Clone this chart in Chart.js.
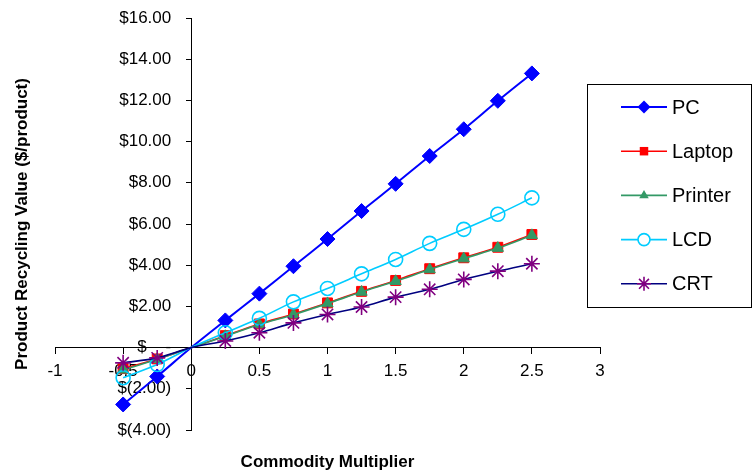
<!DOCTYPE html>
<html>
<head>
<meta charset="utf-8">
<title>Product Recycling Value</title>
<script src="https://cdn.jsdelivr.net/npm/chart.js@4/dist/chart.umd.min.js"></script>
<style>
  html, body { margin: 0; padding: 0; background: #fff; }
  #wrap { width: 753px; height: 473px; position: relative; }
</style>
</head>
<body>
<div id="wrap"><canvas id="recycleChart"></canvas></div>
<script>
// Commodity multiplier (x values)
const multipliers = [-0.5, -0.25, 0, 0.25, 0.5, 0.75, 1, 1.25, 1.5, 1.75, 2, 2.25, 2.5];

// Product recycling value, $/product
const pcValues      = [-2.76, -1.40, 0, 1.32, 2.62, 3.95, 5.27, 6.63, 7.95, 9.30, 10.60, 11.98, 13.31];
const laptopValues  = [-1.02, -0.55, 0, 0.58, 1.15, 1.63, 2.17, 2.73, 3.26, 3.83, 4.36, 4.87, 5.49];
const printerValues = [-1.08, -0.57, 0, 0.55, 1.12, 1.60, 2.14, 2.70, 3.22, 3.79, 4.32, 4.83, 5.45];
const lcdValues     = [-1.46, -0.82, 0, 0.72, 1.42, 2.22, 2.87, 3.58, 4.28, 5.06, 5.74, 6.47, 7.27];
const crtValues     = [-0.74, -0.50, 0, 0.32, 0.72, 1.20, 1.61, 1.97, 2.45, 2.83, 3.31, 3.71, 4.07];

const seriesNames = ["PC", "Laptop", "Printer", "LCD", "CRT"];

// Tick labels
const xTickLabels = ["-1", "-0.5", "0", "0.5", "1", "1.5", "2", "2.5", "3"];
const yTickLabels = ["$(4.00)", "$(2.00)", "$    -", "$2.00", "$4.00", "$6.00", "$8.00",
                     "$10.00", "$12.00", "$14.00", "$16.00"];

const FONT = "'Liberation Sans', Arial, sans-serif";

const styles = [
    { line: "#0000FF", marker: "#0000FF", shape: "rectRot", r: 7.5, fill: true },
    { line: "#FF0000", marker: "#FF0000", shape: "rect", r: 7, fill: true },
    { line: "#339966", marker: "#339966", shape: "triangle", r: 6.5, fill: true },
    { line: "#00CCFF", marker: "#00CCFF", shape: "circle", r: 7, fill: false },
    { line: "#000080", marker: "#800080", shape: "star", r: 8, fill: false }
];

const allValues = [pcValues, laptopValues, printerValues, lcdValues, crtValues];

function toPoints(values) {
    return multipliers.map((m, i) => ({ x: m, y: values[i] }));
}

const datasets = seriesNames.map((name, i) => {
    const s = styles[i];
    return {
        label: name,
        data: toPoints(allValues[i]),
        borderColor: s.line,
        borderWidth: i === 0 ? 2 : 1.6,
        pointStyle: s.shape,
        pointRadius: multipliers.map(m => (m === 0 ? 0 : s.r)),
        pointBackgroundColor: s.fill ? s.marker : "rgba(0,0,0,0)",
        pointBorderColor: s.marker,
        pointBorderWidth: s.fill ? 1 : 1.6,
        tension: 0.33,
        fill: false,
        order: 5 - i
    };
});

// simple marker drawing for the legend box
function drawMarker(ctx, shape, x, y, r, color, fill) {
    ctx.save();
    ctx.strokeStyle = color;
    ctx.fillStyle = color;
    ctx.lineWidth = 1.6;
    ctx.beginPath();
    if (shape === "rectRot") {
        ctx.moveTo(x - r, y); ctx.lineTo(x, y - r); ctx.lineTo(x + r, y); ctx.lineTo(x, y + r);
        ctx.closePath(); ctx.fill();
    } else if (shape === "rect") {
        const h = r * Math.SQRT1_2;
        ctx.rect(x - h, y - h, 2 * h, 2 * h); ctx.fill();
    } else if (shape === "triangle") {
        ctx.moveTo(x, y - r);
        ctx.lineTo(x + r * 0.866, y + r * 0.5);
        ctx.lineTo(x - r * 0.866, y + r * 0.5);
        ctx.closePath(); ctx.fill();
    } else if (shape === "circle") {
        ctx.arc(x, y, r, 0, Math.PI * 2);
        if (fill) ctx.fill(); else { ctx.fillStyle = "#fff"; ctx.fill(); }
        ctx.stroke();
    } else if (shape === "star") {
        const d = r * Math.SQRT1_2;
        ctx.moveTo(x, y - r); ctx.lineTo(x, y + r);
        ctx.moveTo(x - r, y); ctx.lineTo(x + r, y);
        ctx.moveTo(x - d, y - d); ctx.lineTo(x + d, y + d);
        ctx.moveTo(x - d, y + d); ctx.lineTo(x + d, y - d);
        ctx.stroke();
    }
    ctx.restore();
}

// y tick labels sit left of the crossing axis (chart.js puts them right on the line)
const yLabels = {
    id: "yLabels",
    beforeDatasetsDraw(chart) {
        const ctx = chart.ctx;
        const yScale = chart.scales.y;
        const axisX = chart.scales.x.getPixelForValue(0);
        ctx.save();
        ctx.fillStyle = "#000";
        ctx.font = "17px " + FONT;
        ctx.textAlign = "right";
        ctx.textBaseline = "middle";
        yScale.ticks.forEach((t, i) => {
            ctx.fillText(yTickLabels[i], axisX - 20, yScale.getPixelForValue(t.value));
        });
        ctx.restore();
    }
};

// axis titles + boxed legend on the right
const decorations = {
    id: "decorations",
    afterDraw(chart) {
        const ctx = chart.ctx;
        const area = chart.chartArea;
        ctx.save();
        ctx.fillStyle = "#000";
        ctx.font = "bold 17px " + FONT;
        ctx.textAlign = "center";
        ctx.textBaseline = "middle";
        ctx.fillText("Commodity Multiplier", (area.left + area.right) / 2, 462);

        ctx.translate(22, (area.top + area.bottom) / 2);
        ctx.rotate(-Math.PI / 2);
        ctx.fillText("Product Recycling Value ($/product)", 0, 0);
        ctx.restore();

        // legend
        ctx.save();
        ctx.strokeStyle = "#000";
        ctx.lineWidth = 1;
        ctx.strokeRect(587.5, 84.5, 164, 223);
        ctx.font = "20px " + FONT;
        ctx.textAlign = "left";
        ctx.textBaseline = "middle";
        seriesNames.forEach((name, i) => {
            const s = styles[i];
            const y = 107 + i * 44.2;
            ctx.strokeStyle = s.line;
            ctx.lineWidth = i === 0 ? 2 : 1.6;
            ctx.beginPath();
            ctx.moveTo(621, y);
            ctx.lineTo(667, y);
            ctx.stroke();
            drawMarker(ctx, s.shape, 644, y, s.r - 1, s.marker, s.fill);
            ctx.fillStyle = "#000";
            ctx.fillText(name, 672, y + 1);
        });
        ctx.restore();
    }
};

const ctxChart = document.getElementById("recycleChart").getContext("2d");
new Chart(ctxChart, {
    type: "line",
    data: { datasets: datasets },
    options: {
        responsive: true,
        maintainAspectRatio: false,
        animation: false,
        layout: { padding: { left: 55, right: 153, top: 18, bottom: 43 } },
        plugins: {
            legend: { display: false },
            tooltip: { enabled: false }
        },
        scales: {
            x: {
                type: "linear",
                position: { y: 0 },
                min: -1,
                max: 3,
                grid: { drawOnChartArea: false, drawTicks: true, tickLength: 6, color: "#000" },
                border: { color: "#000", width: 1 },
                ticks: {
                    stepSize: 0.5,
                    autoSkip: false,
                    maxRotation: 0,
                    padding: 8,
                    color: "#000",
                    font: { family: FONT, size: 17 },
                    callback: (v, i) => xTickLabels[i]
                }
            },
            y: {
                type: "linear",
                position: { x: 0 },
                min: -4,
                max: 16,
                grid: { drawOnChartArea: false, drawTicks: true, tickLength: 5, color: "#000" },
                border: { color: "#000", width: 1 },
                ticks: {
                    stepSize: 2,
                    autoSkip: false,
                    display: false
                }
            }
        }
    },
    plugins: [yLabels, decorations]
});
</script>
</body>
</html>
